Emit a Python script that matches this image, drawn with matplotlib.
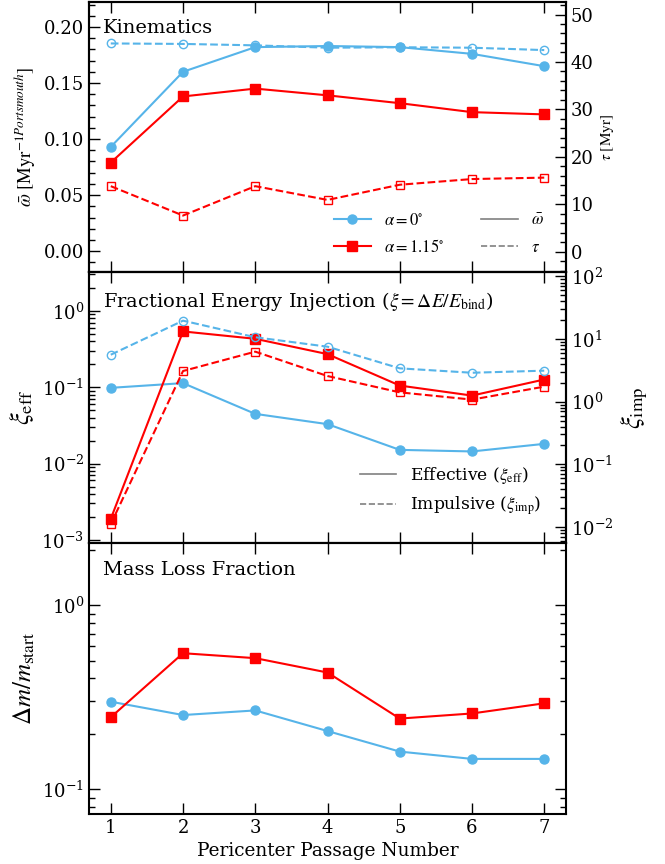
import numpy as np
import matplotlib
matplotlib.use('Agg')
import matplotlib.pyplot as plt
from matplotlib.lines import Line2D
from matplotlib.ticker import MultipleLocator, LogLocator, NullFormatter

plt.rcParams['font.family'] = 'serif'
plt.rcParams['font.serif'] = ['DejaVu Serif']
plt.rcParams['mathtext.fontset'] = 'stix'

BLUE = '#56B4E9'
RED = 'red'

passages = [1, 2, 3, 4, 5, 6, 7]

# Kinematics: mean angular frequency (left) and timescale tau (right)
omega_a0 = [0.093, 0.160, 0.182, 0.183, 0.182, 0.176, 0.165]
omega_a115 = [0.079, 0.138, 0.145, 0.139, 0.132, 0.124, 0.122]
tau_a0 = [43.9, 43.8, 43.5, 43.0, 43.1, 43.0, 42.5]
tau_a115 = [13.8, 7.6, 13.8, 10.9, 14.1, 15.3, 15.6]

# Fractional energy injection
xi_eff_a0 = [0.098, 0.113, 0.0447, 0.0328, 0.0151, 0.0144, 0.0181]
xi_eff_a115 = [0.00189, 0.537, 0.43, 0.271, 0.105, 0.0776, 0.126]
xi_imp_a0 = [5.63, 19.7, 10.7, 7.56, 3.41, 2.9, 3.13]
xi_imp_a115 = [0.0111, 3.09, 6.3, 2.57, 1.41, 1.08, 1.74]

# Mass loss fraction
dm_a0 = [0.299, 0.253, 0.268, 0.207, 0.160, 0.146, 0.146]
dm_a115 = [0.246, 0.549, 0.516, 0.431, 0.242, 0.258, 0.293]


def style_axis(ax):
    ax.tick_params(which='both', direction='in', labelsize=13)
    ax.tick_params(which='major', length=8, width=1)
    ax.tick_params(which='minor', length=4, width=1)
    for sp in ax.spines.values():
        sp.set_linewidth(1.5)


def solid(ax, y, colour, marker):
    ax.plot(passages, y, '-', color=colour, marker=marker, ms=6.5, lw=1.5)


def dashed(ax, y, colour, marker):
    ax.plot(passages, y, '--', color=colour, marker=marker, ms=6, lw=1.5,
            mfc='none', mec=colour, mew=1.0)


fig, axes = plt.subplots(3, 1, figsize=(6.65, 8.64), dpi=100, sharex=True)
fig.subplots_adjust(left=0.134, right=0.851, top=0.998, bottom=0.058, hspace=0)
ax1, ax2, ax3 = axes

# ---- Kinematics
ax1r = ax1.twinx()
solid(ax1, omega_a0, BLUE, 'o')
solid(ax1, omega_a115, RED, 's')
dashed(ax1r, tau_a0, BLUE, 'o')
dashed(ax1r, tau_a115, RED, 's')
ax1.set_ylim(-0.019, 0.2225)
ax1r.set_ylim(-4.4, 52.7)
ax1.yaxis.set_major_locator(MultipleLocator(0.05))
ax1.yaxis.set_minor_locator(MultipleLocator(0.01))
ax1r.yaxis.set_major_locator(MultipleLocator(10))
ax1r.yaxis.set_minor_locator(MultipleLocator(2))
ax1.set_ylabel(r'$\bar{\omega}\ [\mathrm{Myr}^{-1 Portsmouth}]$', fontsize=13.5)
ax1r.set_ylabel(r'$\tau\ [\mathrm{Myr}]$', fontsize=11)
ax1.text(0.03, 0.935, 'Kinematics', transform=ax1.transAxes, fontsize=14, va='top')
handles = [
    Line2D([], [], color=BLUE, marker='o', ms=6.5, lw=1.5, label=r'$\alpha=0^{\circ}$'),
    Line2D([], [], color=RED, marker='s', ms=6.5, lw=1.5, label=r'$\alpha=1.15^{\circ}$'),
    Line2D([], [], color='gray', ls='-', lw=1.2, label=r'$\bar{\omega}$'),
    Line2D([], [], color='gray', ls='--', lw=1.2, label=r'$\tau$'),
]
ax1.legend(handles=handles, loc='lower right', ncol=2, frameon=False, fontsize=12,
           handlelength=2.2, columnspacing=2.2, labelspacing=0.6,
           bbox_to_anchor=(0.985, 0.005))

# ---- Fractional energy injection
ax2r = ax2.twinx()
solid(ax2, xi_eff_a0, BLUE, 'o')
solid(ax2, xi_eff_a115, RED, 's')
dashed(ax2r, xi_imp_a0, BLUE, 'o')
dashed(ax2r, xi_imp_a115, RED, 's')
ax2.set_yscale('log')
ax2r.set_yscale('log')
ax2.set_ylim(9.06e-4, 3.18)
ax2r.set_ylim(5.5e-3, 116)
ax2.set_ylabel(r'$\xi_{\rm eff}$', fontsize=19)
ax2r.set_ylabel(r'$\xi_{\rm imp}$', fontsize=19)
ax2.text(0.03, 0.935, r'Fractional Energy Injection ($\xi = \Delta E/E_{\rm bind}$)',
         transform=ax2.transAxes, fontsize=14, va='top')
handles = [
    Line2D([], [], color='gray', ls='-', lw=1.2, label=r'Effective ($\xi_{\rm eff}$)'),
    Line2D([], [], color='gray', ls='--', lw=1.2, label=r'Impulsive ($\xi_{\rm imp}$)'),
]
ax2.legend(handles=handles, loc='lower right', frameon=False, fontsize=12.3,
           handlelength=2.1, bbox_to_anchor=(0.98, 0.04))

# ---- Mass loss
solid(ax3, dm_a0, BLUE, 'o')
solid(ax3, dm_a115, RED, 's')
ax3.set_yscale('log')
ax3.set_ylim(0.0733, 2.18)
ax3.set_ylabel(r'$\Delta m/m_{\rm start}$', fontsize=18)
ax3.text(0.03, 0.935, 'Mass Loss Fraction', transform=ax3.transAxes, fontsize=14, va='top')
ax3.set_xlabel('Pericenter Passage Number', fontsize=13.3)
ax3.set_xlim(0.7, 7.3)
ax3.set_xticks(passages)

for ax in [ax2, ax2r, ax3]:
    ax.yaxis.set_major_locator(LogLocator(base=10, numticks=10))
    ax.yaxis.set_minor_locator(LogLocator(base=10, subs=np.arange(2, 10), numticks=20))
    ax.yaxis.set_minor_formatter(NullFormatter())

for ax in [ax1, ax2, ax3]:
    style_axis(ax)
    ax.tick_params(axis='x', top=True)
for ax in [ax1r, ax2r]:
    style_axis(ax)
ax3.tick_params(axis='y', which='both', right=True)

fig.savefig('out.png', dpi=100)
